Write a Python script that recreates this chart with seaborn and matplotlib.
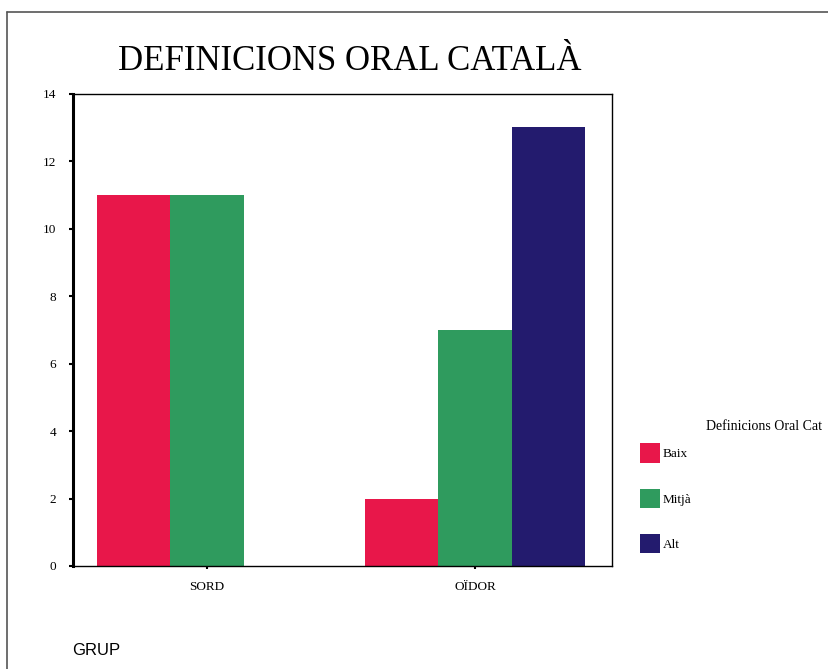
import matplotlib
matplotlib.use("Agg")
import matplotlib.pyplot as plt
from matplotlib.lines import Line2D
import seaborn as sns
import pandas as pd

# Data
groups = ["SORD", "OÏDOR"]
levels = ["Baix", "Mitjà", "Alt"]
baix = [11, 2]
mitja = [11, 7]
alt = [0, 13]
yticks = [0, 2, 4, 6, 8, 10, 12, 14]
colors = ["#E8174A", "#2F9B5E", "#231B6E"]

df = pd.DataFrame({
    "GRUP": groups * 3,
    "Nivell": [levels[0]] * 2 + [levels[1]] * 2 + [levels[2]] * 2,
    "Recompte": baix + mitja + alt,
})

sns.set_theme(style="white")
plt.rcParams["font.family"] = ["Liberation Serif", "DejaVu Serif"]
plt.rcParams["text.color"] = "black"
plt.rcParams["xtick.color"] = "black"
plt.rcParams["ytick.color"] = "black"
plt.rcParams["axes.labelcolor"] = "black"

fig = plt.figure(figsize=(8.29, 6.69), dpi=100)
ax = fig.add_axes([0.088, 0.154, 0.650, 0.706])

sns.barplot(data=df, x="GRUP", y="Recompte", hue="Nivell", order=groups,
            hue_order=levels, palette=colors, width=0.82, linewidth=0,
            saturation=1, ax=ax)

ax.set_ylim(0, 14)
ax.set_xlim(-0.5, 1.51)
ax.set_yticks(yticks)
ax.set_yticklabels([str(t) for t in yticks], fontsize=9.5)
ax.set_xticks([0, 1])
ax.set_xticklabels(groups, fontsize=9.5)
ax.set_xlabel("")
ax.set_ylabel("")
ax.tick_params(axis="y", direction="out", length=3, width=1.5, color="black",
               left=True, pad=9)
ax.tick_params(axis="x", direction="inout", length=4, width=1.5, color="black",
               bottom=True, pad=9)
for side in ["top", "right", "bottom"]:
    ax.spines[side].set_color("black")
    ax.spines[side].set_linewidth(1.0)
ax.spines["left"].set_color("black")
ax.spines["left"].set_linewidth(2.2)

# Legend with its heading written separately to the right of the swatches
handles, labels = ax.get_legend_handles_labels()
ax.legend(handles, labels, loc="upper left", bbox_to_anchor=(0.764, 0.347),
          bbox_transform=fig.transFigure, frameon=False, fontsize=9.5,
          handlelength=1.55, handleheight=1.9, handletextpad=0.15,
          labelspacing=1.95, borderpad=0)
fig.text(0.852, 0.363, "Definicions Oral Cat", fontsize=10, ha="left",
         va="center")

fig.text(0.142, 0.908, "DEFINICIONS ORAL CATALÀ", fontsize=25, ha="left",
         va="center")
fig.text(0.087, 0.028, "GRUP", fontsize=12, ha="left", va="center",
         family=["Liberation Sans", "DejaVu Sans"])

# Outer frame
fig.add_artist(Line2D([0.009, 0.009], [0.0, 0.982], transform=fig.transFigure,
                      color="#555555", linewidth=1.2))
fig.add_artist(Line2D([0.009, 1.0], [0.982, 0.982], transform=fig.transFigure,
                      color="#555555", linewidth=1.2))

fig.savefig("out.png", dpi=100, facecolor="white")
